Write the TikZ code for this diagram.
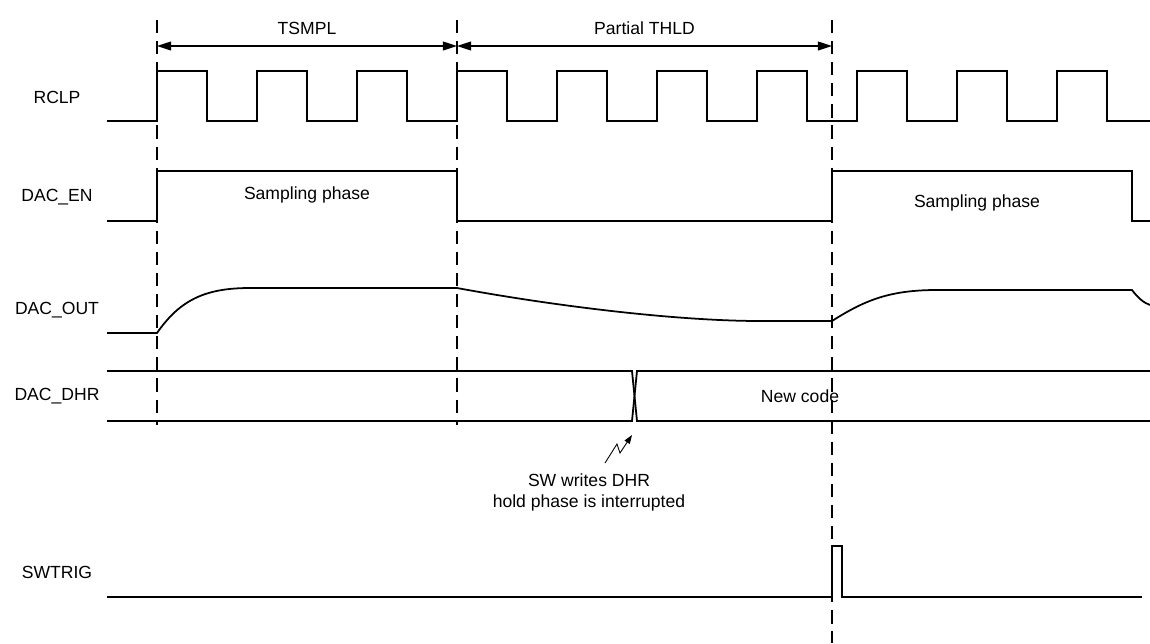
\documentclass[tikz,border=0pt]{standalone}
\usepackage{fontspec}
\setmainfont{Liberation Sans}
\usepackage{xcolor}
\usetikzlibrary{positioning,arrows.meta,calc}
\definecolor{wire}{HTML}{000000}
\definecolor{paper}{HTML}{FFFFFF}

\begin{document}
\begin{tikzpicture}[
  x=0.02cm, y=-0.02cm,
  every node/.style={align=center, font=\fontsize{10}{12}\selectfont},
  sig/.style={draw=wire, line width=1pt, line join=miter},
  phaseline/.style={draw=wire, line width=1pt, dash pattern=on 7.5pt off 4.5pt},
  spanarrow/.style={{Triangle[length=8pt,width=5pt]}-{Triangle[length=8pt,width=5pt]}, line width=0.8pt, draw=wire},
  noteline/.style={-{Triangle[length=5pt,width=3.5pt]}, line width=0.5pt, draw=wire},
  signame/.style={anchor=center},
]
\useasboundingbox[fill=paper] (0,0) rectangle (1150,643);

% Signal names
\node[signame] (rclp)   at (57,97)  {RCLP};
\node[signame] (dacen)  at (57,197) {DAC\_EN};
\node[signame] (dacout) at (57,310) {DAC\_OUT};
\node[signame] (dacdhr) at (57,396) {DAC\_DHR};
\node[signame] (swtrig) at (57,572) {SWTRIG};

% Phase boundaries (dashed markers)
\coordinate (s0) at (157,20);
\coordinate (s1) at (457,20);
\coordinate (s2) at (832,20);
\draw[phaseline] (s0) -- ++(0,405);
\draw[phaseline] (s1) -- ++(0,405);
\draw[phaseline] (s2) -- ++(0,623);

% Time spans: TSMPL ──► Partial THLD
\coordinate (a0) at (157,46);
\coordinate (a1) at (457,46);
\coordinate (a2) at (832,46);
\draw[spanarrow] (a0) -- node[above=3pt] (tsmpl) {TSMPL} (a1);
\draw[spanarrow] (a1) -- node[above=3pt] (thld) {Partial THLD} (a2);

% RCLP clock, period 100
\draw[sig] (107,121) -- (157,121)
  \foreach \t in {157,257,...,1057} { -- (\t,121) -- (\t,71) -- (\t+50,71) -- (\t+50,121) }
  -- (1150,121);

% DAC_EN
\draw[sig] (107,221) -- (157,221) -- (157,171) -- (457,171) -- (457,221)
  -- (832,221) -- (832,171) -- (1132,171) -- (1132,221) -- (1150,221);
\node (samp1) at (307,195) {Sampling phase};
\node (samp2) at (977,203) {Sampling phase};

% DAC_OUT: charge, hold decay, charge again
\draw[sig] (107,333) -- (157,333) .. controls (180,300) and (205,288) .. (250,288)
  -- (457,288) .. controls (560,307) and (680,321) .. (760,321) -- (832,321)
  .. controls (865,300) and (890,290) .. (937,290) -- (1132,290)
  .. controls (1138,298) and (1144,303) .. (1150,305);

% DAC_DHR bus with data change
\draw[sig] (107,371) -- (632,371) -- (637,421) -- (1150,421);
\draw[sig] (107,421) -- (632,421) -- (637,371) -- (1150,371);
\node (newcode) at (800,396) {New code};

% Software write note
\node (swnote) at (589,492) {SW writes DHR\\hold phase is interrupted};
\coordinate (z0) at (605,463);
\coordinate (z1) at (632,435);
\draw[noteline] (z0) -- (617,444) -- (620,453) -- (z1);

% SWTRIG pulse
\draw[sig] (107,597) -- (832,597) -- (832,546) -- (842,546) -- (842,597) -- (1142,597);
\end{tikzpicture}
\end{document}
